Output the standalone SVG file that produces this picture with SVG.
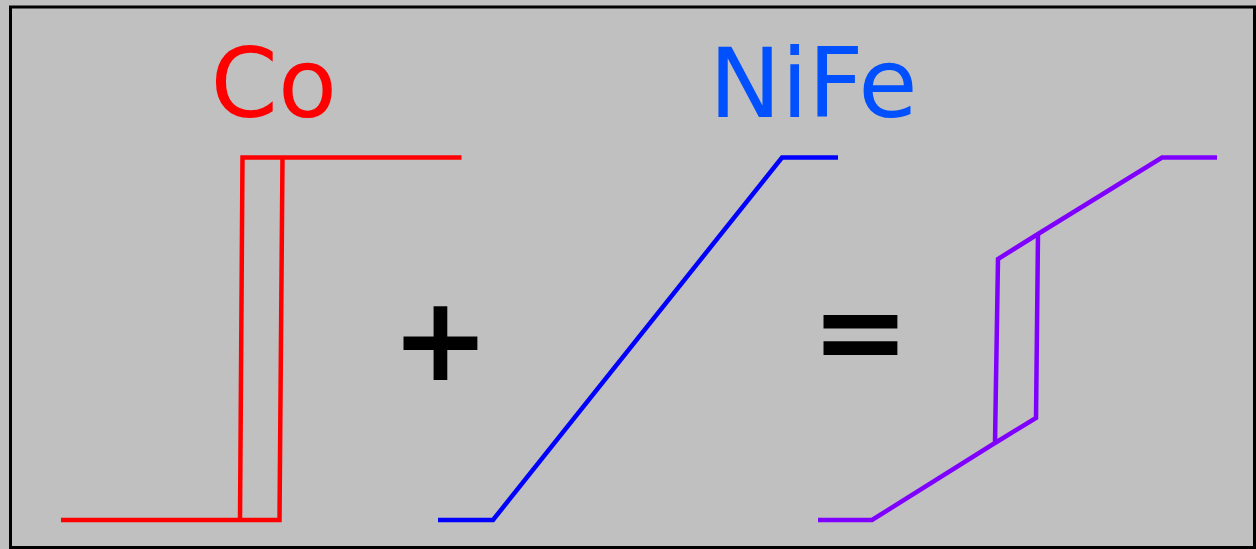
<svg xmlns="http://www.w3.org/2000/svg" width="1256" height="549" viewBox="0 0 1256 549">
<style>
.lbl{font-family:"DejaVu Sans",sans-serif;font-size:96.5px}
.op{font-family:"DejaVu Sans",sans-serif;font-weight:bold;font-size:118px;fill:#000}
.crv{fill:none;stroke-width:4.5;stroke-linejoin:miter}
</style>
<rect x="0" y="0" width="1256" height="549" fill="#c0c0c0"/>
<rect x="10.5" y="7" width="1244" height="540.5" fill="none" stroke="#000" stroke-width="3"/>
<g id="co">
<text class="lbl" x="210.5" y="117" fill="#ff0000">Co</text>
<path class="crv" stroke="#ff0000" d="M61,520 H240 L242.5,157.5 H461.5 M282.5,157.5 L279.5,520 H240"/>
</g>
<g id="plus">
<text class="op" x="440.5" y="379.5" text-anchor="middle">+</text>
</g>
<g id="nife">
<text class="lbl" x="709" y="117" fill="#0050ff">NiFe</text>
<path class="crv" stroke="#0000ff" d="M438,520 H493 L782,157.5 H838"/>
</g>
<g id="equals">
<text class="op" x="860.5" y="371.5" text-anchor="middle">=</text>
</g>
<g id="sum">
<path class="crv" stroke="#8000ff" d="M818,520 H872 L995,443 L998,259 L1038,234 L1162,157.5 H1217 M995,443 L1036,418 L1038,234"/>
</g>
</svg>
